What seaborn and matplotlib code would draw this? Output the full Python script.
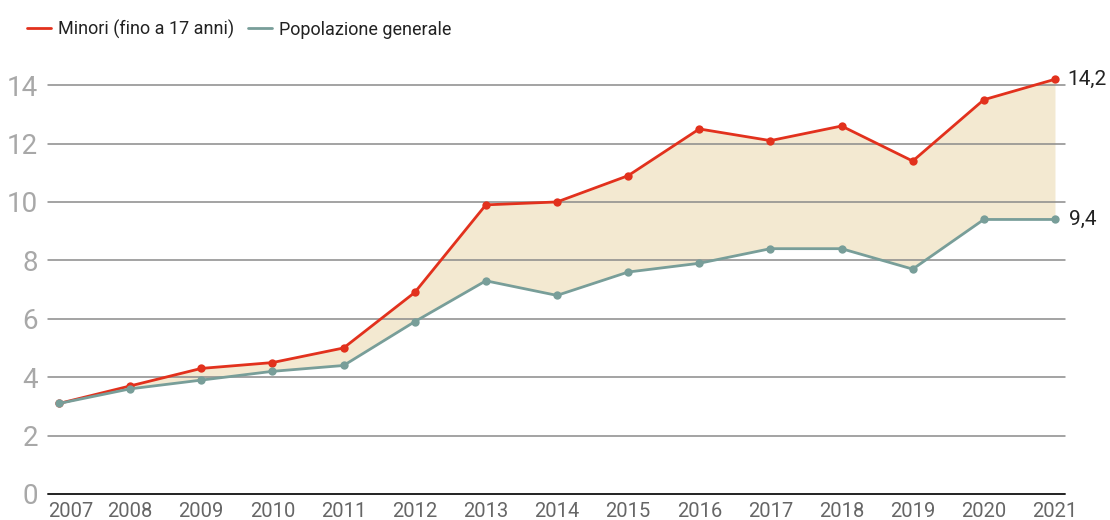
import matplotlib
matplotlib.use("Agg")
import matplotlib.pyplot as plt
import matplotlib.transforms as mtransforms
from matplotlib.lines import Line2D
import seaborn as sns
import pandas as pd

years = [2007, 2008, 2009, 2010, 2011, 2012, 2013, 2014, 2015, 2016, 2017, 2018, 2019, 2020, 2021]
minori = [3.1, 3.7, 4.3, 4.5, 5.0, 6.9, 9.9, 10.0, 10.9, 12.5, 12.1, 12.6, 11.4, 13.5, 14.2]
popolazione = [3.1, 3.6, 3.9, 4.2, 4.4, 5.9, 7.3, 6.8, 7.6, 7.9, 8.4, 8.4, 7.7, 9.4, 9.4]
series_names = ["Minori (fino a 17 anni)", "Popolazione generale"]
end_labels = ["14,2", "9,4"]
y_ticks = [0, 2, 4, 6, 8, 10, 12, 14]

RED = "#e2311d"
TEAL = "#789e99"
FILL = "#f3e9d1"

sns.set_style("white")
plt.rcParams["font.family"] = ["Roboto", "DejaVu Sans"]

df = pd.DataFrame({
    "year": years * 2,
    "value": minori + popolazione,
    "serie": [series_names[0]] * len(years) + [series_names[1]] * len(years),
})

fig = plt.figure(figsize=(11.1, 5.2), dpi=100)
ax = fig.add_axes([48 / 1110, 26 / 520, (1065 - 48) / 1110, 0.820])

ax.fill_between(years, popolazione, minori, color=FILL, lw=0, zorder=1)
for t in y_ticks[1:]:
    ax.axhline(t, color="#8a8a8a", lw=1.1, zorder=2)
ax.axhline(0, color="#222222", lw=1.4, zorder=2)

sns.lineplot(data=df, x="year", y="value", hue="serie",
             palette={series_names[0]: RED, series_names[1]: TEAL},
             marker="o", markersize=6, markeredgewidth=0, linewidth=2,
             ax=ax, zorder=3, legend=False)
for line in ax.lines:
    line.set_clip_on(False)

ax.set_xlim(2007 - 11 / 71, 2021 + 10 / 71)
ax.set_ylim(0, 14.6)
ax.set_yticks(y_ticks)
ax.set_yticklabels([str(t) for t in y_ticks])
ax.set_xticks(years)
ax.set_xticklabels([str(y) for y in years])
ax.tick_params(axis="y", length=0, pad=7, labelsize=20, labelcolor="#a8a8a8")
ax.tick_params(axis="x", length=0, pad=6, labelsize=14.5, labelcolor="#666666")
offset = mtransforms.ScaledTranslation(12 / 100, 0, fig.dpi_scale_trans)
first = ax.get_xticklabels()[0]
first.set_transform(first.get_transform() + offset)

ax.set_xlabel("")
ax.set_ylabel("")
for s in ax.spines.values():
    s.set_visible(False)

ax.annotate(end_labels[0], (years[-1], minori[-1]), xytext=(9, 0), textcoords="offset points",
            fontsize=15, color="#222222", va="center", ha="left", annotation_clip=False)
ax.annotate(end_labels[1], (years[-1], popolazione[-1]), xytext=(10, 0), textcoords="offset points",
            fontsize=15, color="#222222", va="center", ha="left", annotation_clip=False)

handles = [Line2D([0], [0], color=RED, lw=2), Line2D([0], [0], color=TEAL, lw=2)]
fig.legend(handles, series_names, loc="upper left", bbox_to_anchor=(20 / 1110, 0.976),
           ncol=2, frameon=False, fontsize=13, handlelength=1.3, handletextpad=0.4,
           columnspacing=0.8, borderaxespad=0, labelcolor="#222222")

fig.savefig("out.png", dpi=100)
